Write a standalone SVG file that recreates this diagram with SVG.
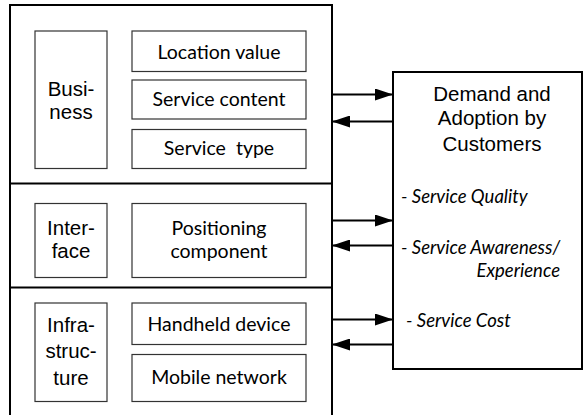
<svg xmlns="http://www.w3.org/2000/svg" width="587" height="415" viewBox="0 0 587 415">
  <defs>
    <style>
      .frame { fill: none; stroke: #000; stroke-width: 2; }
      .box { fill: #fff; stroke: #333; stroke-width: 1.2; }
      .arial { font-family: "Liberation Sans", Arial, sans-serif; font-size: 20.5px; fill: #000; text-anchor: middle; }
      .gill { font-family: Lato, "Open Sans", sans-serif; font-size: 19.5px; fill: #000; text-anchor: middle; white-space: pre; }
      .ital { font-family: Lato, "Open Sans", sans-serif; font-style: italic; font-size: 18.5px; fill: #000; }
      .conn { stroke: #000; stroke-width: 2; fill: none; }
    </style>
    <marker id="arrow" viewBox="0 0 18 12" refX="17" refY="6" markerWidth="18" markerHeight="12" markerUnits="userSpaceOnUse" orient="auto">
      <path d="M0,0 L18,6 L0,12 Z" fill="#000"/>
    </marker>
  </defs>
  <rect width="587" height="415" fill="#fff"/>

  <!-- outer stack with three layers -->
  <g id="stack">
    <path class="frame" d="M10,415 V5 H332 V415"/>
    <line class="frame" x1="10" y1="183.5" x2="332" y2="183.5"/>
    <line class="frame" x1="10" y1="287.5" x2="332" y2="287.5"/>
  </g>

  <!-- business layer -->
  <g id="business">
    <rect class="box" x="35" y="31" width="72" height="137.5"/>
    <text class="arial" x="71" y="96">Busi-</text>
    <text class="arial" x="71" y="119">ness</text>
  </g>
  <g id="location-value">
    <rect class="box" x="132" y="31" width="174" height="40.5"/>
    <text class="gill" x="219" y="58.5">Location value</text>
  </g>
  <g id="service-content">
    <rect class="box" x="132" y="80" width="174" height="39"/>
    <text class="gill" x="219" y="106">Service content</text>
  </g>
  <g id="service-type">
    <rect class="box" x="132" y="129.5" width="174" height="39"/>
    <text class="gill" x="219" y="155">Service  type</text>
  </g>

  <!-- interface layer -->
  <g id="interface">
    <rect class="box" x="35" y="203.5" width="72" height="74"/>
    <text class="arial" x="71" y="235">Inter-</text>
    <text class="arial" x="71" y="257.5">face</text>
  </g>
  <g id="positioning">
    <rect class="box" x="132" y="203.5" width="174" height="74"/>
    <text class="gill" x="219" y="235">Positioning</text>
    <text class="gill" x="219" y="257.5">component</text>
  </g>

  <!-- infrastructure layer -->
  <g id="infrastructure">
    <rect class="box" x="35" y="303" width="72" height="98.5"/>
    <text class="arial" x="71" y="332">Infra-</text>
    <text class="arial" x="71" y="358">struc-</text>
    <text class="arial" x="71" y="384.5">ture</text>
  </g>
  <g id="handheld">
    <rect class="box" x="132" y="303" width="174" height="41.5"/>
    <text class="gill" x="219" y="330.5">Handheld device</text>
  </g>
  <g id="mobile-network">
    <rect class="box" x="132" y="354.5" width="174" height="47"/>
    <text class="gill" x="219" y="383.5">Mobile network</text>
  </g>

  <!-- customer demand -->
  <g id="demand">
    <rect class="frame" x="393" y="72" width="189" height="297"/>
    <text class="arial" x="492" y="100.5">Demand and</text>
    <text class="arial" x="492" y="125">Adoption by</text>
    <text class="arial" x="492" y="151">Customers</text>
    <text class="ital" x="401" y="202.5">- Service Quality</text>
    <text class="ital" x="401" y="253.5">- Service Awareness/</text>
    <text class="ital" x="560" y="276.5" text-anchor="end">Experience</text>
    <text class="ital" x="406" y="326.5">- Service Cost</text>
  </g>

  <!-- connectors between layers and customers -->
  <g id="connectors">
    <line class="conn" x1="332" y1="94.5" x2="392" y2="94.5" marker-end="url(#arrow)"/>
    <line class="conn" x1="393" y1="121.5" x2="333" y2="121.5" marker-end="url(#arrow)"/>
    <line class="conn" x1="332" y1="220.5" x2="392" y2="220.5" marker-end="url(#arrow)"/>
    <line class="conn" x1="393" y1="245.5" x2="333" y2="245.5" marker-end="url(#arrow)"/>
    <line class="conn" x1="332" y1="319.5" x2="392" y2="319.5" marker-end="url(#arrow)"/>
    <line class="conn" x1="393" y1="344.5" x2="333" y2="344.5" marker-end="url(#arrow)"/>
  </g>
</svg>
